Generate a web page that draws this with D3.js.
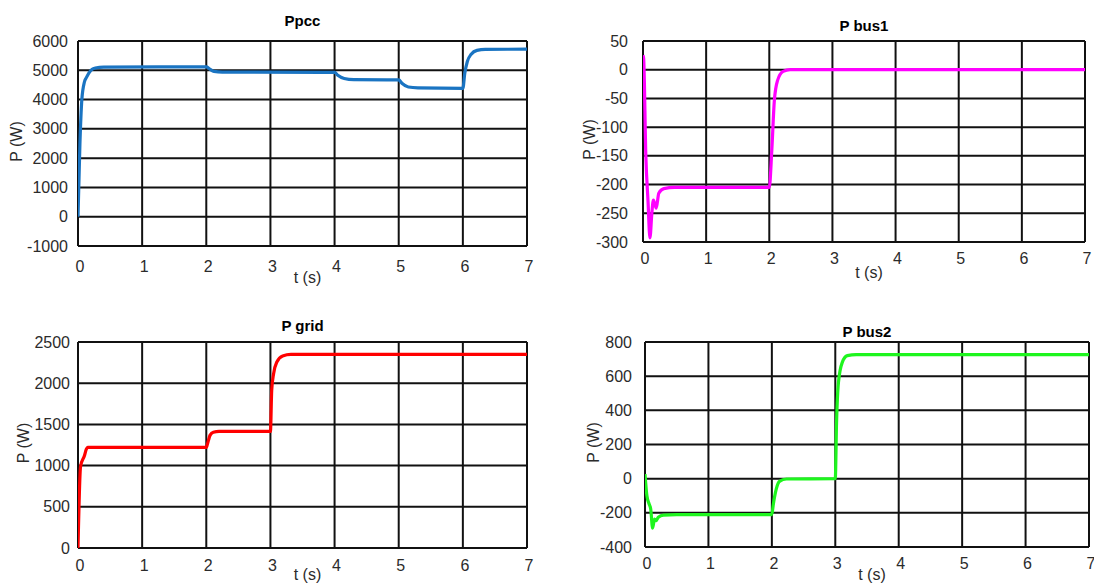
<!DOCTYPE html>
<html>
<head>
<meta charset="utf-8">
<script src="https://cdn.jsdelivr.net/npm/d3@7"></script>
<style>
  body { margin: 0; background: #fff; }
  svg { display: block; font-family: "Liberation Sans", Arial, sans-serif; }
  .tick-label { font-size: 16px; fill: #2b2b2b; }
  .axis-label { font-size: 16px; fill: #2b2b2b; }
  .title { font-size: 15px; font-weight: bold; fill: #000; }
</style>
</head>
<body>
<div id="root"></div>
<script>
// x ticks shared by every panel
const timeTicks = [0, 1, 2, 3, 4, 5, 6, 7]

// Ppcc
const ppccTime = [0, 0.03, 0.06, 0.1, 0.13, 0.2, 0.27, 0.4, 2, 2.05, 2.12, 2.25, 4, 4.05, 4.15, 4.3, 5, 5.05, 5.15, 5.3, 6, 6.03, 6.07, 6.13, 6.22, 6.35, 7]
const ppccValues = [0, 2500, 4000, 4600, 4750, 5000, 5080, 5110, 5115, 5050, 4960, 4940, 4930, 4830, 4720, 4680, 4670, 4560, 4430, 4400, 4385, 4900, 5300, 5550, 5680, 5715, 5720]
const ppccTicks = [-1000, 0, 1000, 2000, 3000, 4000, 5000, 6000]

// P bus1
const bus1Time = [0, 0.01, 0.045, 0.08, 0.11, 0.14, 0.165, 0.21, 0.25, 0.33, 0.5, 2, 2.04, 2.08, 2.13, 2.22, 2.33, 7]
const bus1Values = [25, 20, -150, -230, -293, -250, -227, -241, -215, -207, -205, -205, -140, -54, -19, -3, 0, 0]
const bus1Ticks = [-300, -250, -200, -150, -100, -50, 0, 50]

// P grid
const gridTime = [0, 0.04, 0.1, 0.13, 0.15, 0.3, 2, 2.01, 2.06, 2.11, 2.2, 3, 3.02, 3.05, 3.1, 3.19, 3.32, 7]
const gridValues = [0, 990, 1120, 1200, 1222, 1220, 1220, 1240, 1370, 1405, 1415, 1415, 1915, 2117, 2258, 2331, 2350, 2350]
const gridTicks = [0, 500, 1000, 1500, 2000, 2500]

// P bus2
const bus2Time = [0, 0.03, 0.065, 0.09, 0.12, 0.15, 0.175, 0.21, 0.29, 0.5, 2, 2.02, 2.07, 2.12, 2.23, 3, 3.02, 3.05, 3.11, 3.19, 3.33, 7]
const bus2Values = [27, -100, -148, -178, -290, -236, -246, -226, -213, -210, -210, -158, -60, -16, -2, 0, 330, 564, 681, 720, 726, 726]
const bus2Ticks = [-400, -200, 0, 200, 400, 600, 800]

const panels = [
  { title: 'Ppcc', time: ppccTime, values: ppccValues, ticks: ppccTicks, color: '#1a74c2',
    left: 78, right: 527, top: 41, bottom: 246, labelGap: 10, xLabelDy: 20,
    titleY: 26, xLabelY: 283, yLabelX: 22 },
  { title: 'P bus1', time: bus1Time, values: bus1Values, ticks: bus1Ticks, color: '#ff00ff',
    left: 643, right: 1085, top: 41, bottom: 242, labelGap: 15, xLabelDy: 16,
    titleY: 31, xLabelY: 278, yLabelX: 595 },
  { title: 'P grid', time: gridTime, values: gridValues, ticks: gridTicks, color: '#ff0000',
    left: 78, right: 527, top: 342, bottom: 548, labelGap: 8, xLabelDy: 17,
    titleY: 331, xLabelY: 580, yLabelX: 29 },
  { title: 'P bus2', time: bus2Time, values: bus2Values, ticks: bus2Ticks, color: '#1ef51e',
    left: 645, right: 1089, top: 342, bottom: 547, labelGap: 13, xLabelDy: 16,
    titleY: 337, xLabelY: 580, yLabelX: 599 }
]

const svg = d3.select('#root').append('svg')
  .attr('width', 1094)
  .attr('height', 585)

panels.forEach((p, i) => {
  const x = d3.scaleLinear().domain([0, 7]).range([p.left, p.right])
  const y = d3.scaleLinear().domain(d3.extent(p.ticks)).range([p.bottom, p.top])
  const g = svg.append('g')

  // grid lines
  g.selectAll('.vgrid').data(timeTicks).enter().append('line')
    .attr('x1', d => x(d)).attr('x2', d => x(d))
    .attr('y1', p.top).attr('y2', p.bottom)
    .attr('stroke', '#111').attr('stroke-width', 2)
  g.selectAll('.hgrid').data(p.ticks).enter().append('line')
    .attr('y1', d => y(d)).attr('y2', d => y(d))
    .attr('x1', p.left).attr('x2', p.right)
    .attr('stroke', '#111').attr('stroke-width', 2)

  // data line, clipped to the plot box
  const clipId = 'clip' + i
  svg.append('clipPath').attr('id', clipId)
    .append('rect')
    .attr('x', p.left).attr('y', p.top - 2)
    .attr('width', p.right - p.left).attr('height', p.bottom - p.top + 4)

  const line = d3.line()
    .x(d => x(d[0]))
    .y(d => y(d[1]))
    .curve(d3.curveMonotoneX)

  g.append('path')
    .datum(d3.zip(p.time, p.values))
    .attr('clip-path', `url(#${clipId})`)
    .attr('fill', 'none')
    .attr('stroke', p.color)
    .attr('stroke-width', 3.2)
    .attr('stroke-linejoin', 'round')
    .attr('d', line)

  // tick labels
  g.selectAll('.ylab').data(p.ticks).enter().append('text')
    .attr('class', 'tick-label')
    .attr('x', p.left - p.labelGap)
    .attr('y', d => y(d))
    .attr('dy', '0.35em')
    .attr('text-anchor', 'end')
    .text(d => d)
  g.selectAll('.xlab').data(timeTicks).enter().append('text')
    .attr('class', 'tick-label')
    .attr('x', d => x(d) + 2)
    .attr('y', p.bottom + p.xLabelDy)
    .attr('dy', '0.35em')
    .attr('text-anchor', 'middle')
    .text(d => d)

  // titles and axis labels
  g.append('text')
    .attr('class', 'title')
    .attr('x', (p.left + p.right) / 2)
    .attr('y', p.titleY)
    .attr('text-anchor', 'middle')
    .text(p.title)
  g.append('text')
    .attr('class', 'axis-label')
    .attr('x', (p.left + p.right) / 2 + 5)
    .attr('y', p.xLabelY)
    .attr('text-anchor', 'middle')
    .text('t (s)')
  g.append('text')
    .attr('class', 'axis-label')
    .attr('transform', `translate(${p.yLabelX}, ${(p.top + p.bottom) / 2 - 2}) rotate(-90)`)
    .attr('text-anchor', 'middle')
    .text('P (W)')
})
</script>
</body>
</html>
